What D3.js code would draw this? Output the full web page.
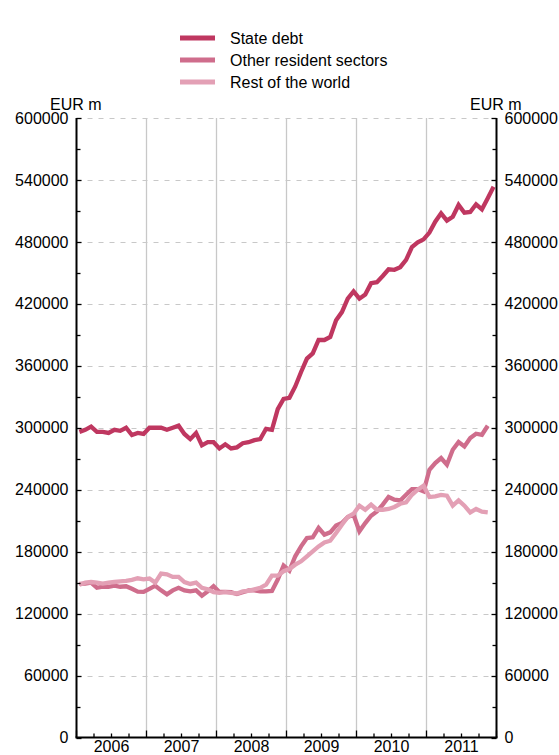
<!DOCTYPE html>
<html><head><meta charset="utf-8">
<script src="https://cdn.jsdelivr.net/npm/d3@7"></script>
<style>body{margin:0;background:#fff}svg{display:block;font-family:"Liberation Sans",Arial,sans-serif}</style>
</head><body><svg id="c" width="559" height="755"></svg>
<script>
const startYear = 2006;
const years = [2006, 2007, 2008, 2009, 2010, 2011];
const yTicks = [0, 60000, 120000, 180000, 240000, 300000, 360000, 420000, 480000, 540000, 600000];
const seriesNames = ["State debt", "Other resident sectors", "Rest of the world"];
const seriesColors = ["#bf3760", "#cf6d8c", "#e3a0b5"];
// monthly values, Jan 2006 - Dec 2011
const stateDebt = [296000,298000,301000,296000,296000,295000,298000,297000,300000,293000,295000,294000,
  300000,300000,300000,298000,300000,302000,294000,289000,295000,283000,286000,286000,
  280000,284000,280000,281000,285000,286000,288000,289000,299000,298000,318000,328000,
  329000,340000,354000,367000,372000,385000,385000,388000,404000,412000,425000,432000,
  425000,429000,440000,441000,447000,453500,453000,455500,462500,475000,479500,482500,
  489000,499600,507700,500600,504400,515800,508300,509000,516400,511600,522300,533500];
const otherResident = [148700,149000,150000,145000,146000,146000,147000,146000,146500,144000,141300,141000,
  144000,147000,142500,138700,142500,145000,142500,141500,142500,137400,141500,146500,
  141000,141000,140700,139000,140700,142500,142500,141500,141500,142000,153000,166500,
  161600,175500,185100,193200,193900,203000,196500,198700,205200,207700,213600,215800,
  199700,207700,214800,219000,225500,232900,230300,229600,235100,240600,240600,238300,
  259300,265800,270600,264200,278700,286100,281900,290000,294200,293200,301900,null];
const restOfWorld = [148000,150000,150600,150000,149000,150000,150600,151300,151600,152600,154200,153200,
  153900,150000,158700,158000,155500,155500,150600,148700,150000,145000,143500,140700,
  140000,140700,140000,139500,141500,142000,143500,145000,148000,156800,156800,161000,
  163200,167400,170600,175500,180300,185100,189000,190600,198100,206100,213600,216800,
  224500,220600,225500,220600,220600,221300,223300,226400,227700,235100,240000,243900,
  232900,233500,234900,234200,224500,229600,224500,218000,221300,218700,218000,null];

const series = [stateDebt, otherResident, restOfWorld];
const svg = d3.select("#c");
const m = {left: 76.5, right: 496.5, top: 118, bottom: 737.5};
const x = d3.scaleLinear().domain([2006, 2012]).range([m.left, m.right]);
const y = d3.scaleLinear().domain([0, 600000]).range([m.bottom, m.top]);
const font = 16;

// horizontal dashed grid
svg.append("g").selectAll("line").data(yTicks.filter(d => d > 0)).join("line")
  .attr("x1", m.left).attr("x2", m.right)
  .attr("y1", d => Math.round(y(d)) + 0.5).attr("y2", d => Math.round(y(d)) + 0.5)
  .attr("stroke", "#c8c8c8").attr("stroke-dasharray", "5,6");
// vertical year separators
svg.append("g").selectAll("line").data(years.slice(1)).join("line")
  .attr("x1", d => x(d)).attr("x2", d => x(d))
  .attr("y1", m.top).attr("y2", m.bottom)
  .attr("stroke", "#c8c8c8").attr("stroke-width", 1.3);

// lines
const line = d3.line().defined(d => d.v != null).x(d => x(d.t)).y(d => y(d.v));
series.forEach((s, k) => {
  const pts = s.map((v, i) => ({t: startYear + (i + 0.5) / 12, v}));
  svg.append("path").datum(pts).attr("d", line)
    .attr("fill", "none").attr("stroke", seriesColors[k]).attr("stroke-width", 4.3)
    .attr("stroke-linejoin", "miter").attr("stroke-miterlimit", 3);
});
// axes
const minorY = d3.range(0, 600001, 30000);
const gL = svg.append("g").attr("transform", `translate(${m.left},0)`);
gL.append("line").attr("y1", m.top).attr("y2", m.bottom).attr("stroke", "#000").attr("stroke-width", 2);
gL.selectAll(".t").data(minorY).join("line")
  .attr("x1", 0).attr("x2", d => d % 60000 === 0 ? 5 : 4)
  .attr("y1", d => Math.round(y(d)) + 0.5).attr("y2", d => Math.round(y(d)) + 0.5)
  .attr("stroke", "#000").attr("stroke-width", 1.3);
gL.selectAll("text").data(yTicks).join("text")
  .attr("x", -8).attr("y", d => y(d)).attr("dy", "0.35em").attr("text-anchor", "end")
  .attr("font-size", font).text(d => d);
const gR = svg.append("g").attr("transform", `translate(${m.right},0)`);
gR.append("line").attr("y1", m.top).attr("y2", m.bottom).attr("stroke", "#000").attr("stroke-width", 2);
gR.selectAll(".t").data(minorY).join("line")
  .attr("x1", 0).attr("x2", d => d % 60000 === 0 ? -5 : -4)
  .attr("y1", d => Math.round(y(d)) + 0.5).attr("y2", d => Math.round(y(d)) + 0.5)
  .attr("stroke", "#000").attr("stroke-width", 1.3);
gR.selectAll("text").data(yTicks).join("text")
  .attr("x", 8).attr("y", d => y(d)).attr("dy", "0.35em").attr("text-anchor", "start")
  .attr("font-size", font).text(d => d);
svg.append("text").attr("x", 50).attr("y", 110).attr("font-size", font).text("EUR m");
svg.append("text").attr("x", 470).attr("y", 110).attr("font-size", font).text("EUR m");

// x axis
const gB = svg.append("g");
gB.append("line").attr("x1", m.left - 1).attr("x2", m.right + 1).attr("y1", m.bottom).attr("y2", m.bottom)
  .attr("stroke", "#000").attr("stroke-width", 2);
const qTicks = d3.range(0, 25).map(q => 2006 + q / 4);
gB.selectAll(".q").data(qTicks).join("line")
  .attr("x1", d => x(d)).attr("x2", d => x(d))
  .attr("y1", m.bottom).attr("y2", d => (Math.abs(d - Math.round(d)) < 1e-9) ? m.bottom - 7 : m.bottom - 4)
  .attr("stroke", "#000").attr("stroke-width", 1.3);
gB.selectAll("text").data(years).join("text")
  .attr("x", d => x(d + 0.5)).attr("y", 751.5).attr("text-anchor", "middle")
  .attr("font-size", font).text(d => d);

// legend
const lg = svg.append("g");
seriesNames.forEach((n, k) => {
  const yy = 38 + k * 22;
  lg.append("line").attr("x1", 180).attr("x2", 215).attr("y1", yy).attr("y2", yy)
    .attr("stroke", seriesColors[k]).attr("stroke-width", 5);
  lg.append("text").attr("x", 230).attr("y", yy).attr("dy", "0.35em").attr("font-size", font).text(n);
});
</script></body></html>
